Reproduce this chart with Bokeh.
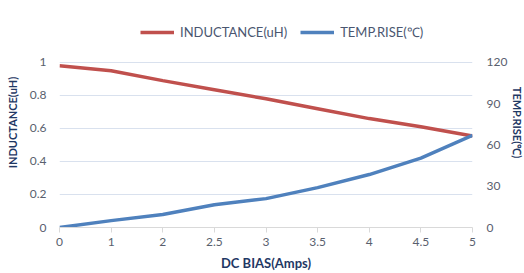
from bokeh.plotting import figure
from bokeh.models import (LinearAxis, Range1d, FixedTicker, Legend, LegendItem,
                          NumeralTickFormatter)
from bokeh.embed import file_html
from bokeh.resources import INLINE

categories = ["0", "1", "2", "2.5", "3", "3.5", "4", "4.5", "5"]
inductance = [0.98, 0.95, 0.89, 0.835, 0.78, 0.72, 0.66, 0.61, 0.555]
temp_rise = [0, 5, 9.5, 16.5, 21, 29, 38.5, 50.5, 67]
left_ticks = [0, 0.2, 0.4, 0.6, 0.8, 1]
right_ticks = [0, 30, 60, 90, 120]

xs = list(range(len(categories)))

FONT = "Lato"
TICK_COLOR = "#595f6e"
TITLE_COLOR = "#1f3864"

# frame extends above the top gridline to hold the legend
TOP_L = 1.2727
TOP_R = 120 * TOP_L

p = figure(frame_width=413, frame_height=210, output_backend="svg", toolbar_location=None,
           x_range=Range1d(0, len(categories) - 1), y_range=Range1d(0, TOP_L),
           min_border_left=59, min_border_right=48, min_border_top=17,
           min_border_bottom=0)
p.extra_y_ranges = {"temp": Range1d(0, TOP_R)}

p.outline_line_color = None
p.background_fill_color = "white"
p.border_fill_color = "white"

p.xgrid.grid_line_color = None
p.ygrid.grid_line_color = "#d9e1ee"
p.ygrid.grid_line_width = 1
p.ygrid.ticker = FixedTicker(ticks=left_ticks)

# x axis
xa = p.xaxis[0]
xa.ticker = FixedTicker(ticks=xs)
xa.major_label_overrides = {i: c for i, c in enumerate(categories)}
xa.axis_line_color = "#d9d9d9"
xa.major_tick_line_color = "#d9d9d9"
xa.major_tick_out = 5
xa.major_tick_in = 0
xa.minor_tick_line_color = None
xa.major_label_text_font = FONT
xa.major_label_text_font_size = "12px"
xa.major_label_text_color = TICK_COLOR
xa.major_label_standoff = 5
xa.axis_label = "DC BIAS(Amps)"
xa.axis_label_text_font = FONT
xa.axis_label_text_font_size = "13px"
xa.axis_label_text_font_style = "bold"
xa.axis_label_text_color = TITLE_COLOR
xa.axis_label_standoff = 6

# left axis
ya = p.yaxis[0]
ya.ticker = FixedTicker(ticks=left_ticks)
ya.bounds = (left_ticks[0], left_ticks[-1])
ya.formatter = NumeralTickFormatter(format="0.[0]")
ya.axis_line_color = None
ya.major_tick_line_color = None
ya.minor_tick_line_color = None
ya.major_label_text_font = FONT
ya.major_label_text_font_size = "12px"
ya.major_label_text_color = TICK_COLOR
ya.major_label_standoff = 7
ya.axis_label = "INDUCTANCE(uH)"
ya.axis_label_text_font = FONT
ya.axis_label_text_font_size = "11px"
ya.axis_label_text_font_style = "bold"
ya.axis_label_text_color = TITLE_COLOR
ya.axis_label_standoff = 8

# right axis
ra = LinearAxis(y_range_name="temp", ticker=FixedTicker(ticks=right_ticks))
ra.bounds = (right_ticks[0], right_ticks[-1])
ra.axis_line_color = None
ra.major_tick_line_color = None
ra.minor_tick_line_color = None
ra.major_label_text_font = FONT
ra.major_label_text_font_size = "12px"
ra.major_label_text_color = TICK_COLOR
ra.major_label_standoff = 8
ra.axis_label = "TEMP.RISE(\u2103)"
ra.axis_label_text_font = FONT
ra.axis_label_text_font_size = "11px"
ra.axis_label_text_font_style = "bold"
ra.axis_label_text_color = TITLE_COLOR
ra.axis_label_standoff = 1
p.add_layout(ra, "right")

r1 = p.line(xs, inductance, line_color="#c0504d", line_width=3.5)
r2 = p.line(xs, temp_rise, y_range_name="temp", line_color="#4f81bd", line_width=3.5)

legend = Legend(items=[LegendItem(label="INDUCTANCE(uH)", renderers=[r1]),
                       LegendItem(label="TEMP.RISE(\u2103)", renderers=[r2])],
                orientation="horizontal", location=(81, 186))
legend.label_text_font = FONT
legend.label_text_font_size = "13px"
legend.label_text_color = "#4a5670"
legend.glyph_width = 34
legend.glyph_height = 12
legend.spacing = 13
legend.label_standoff = 6
legend.border_line_color = None
legend.background_fill_alpha = 0
legend.padding = 0
legend.margin = 0
p.add_layout(legend, "center")

open("out.html", "w").write(file_html(p, INLINE))
